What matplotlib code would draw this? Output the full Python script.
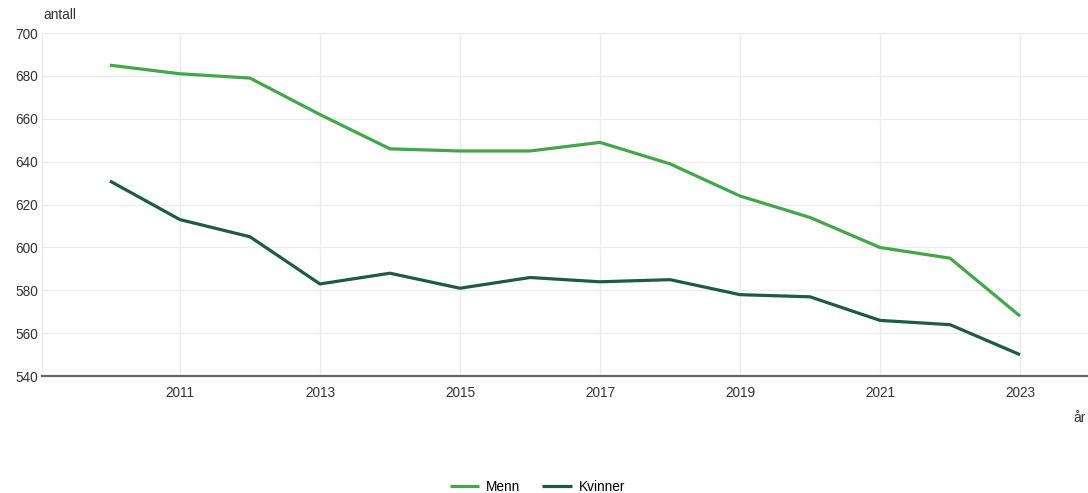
import matplotlib.pyplot as plt
import numpy as np

years = [2010, 2011, 2012, 2013, 2014, 2015, 2016, 2017, 2018, 2019, 2020, 2021, 2022, 2023]
menn = [685, 681, 679, 662, 646, 645, 645, 649, 639, 624, 614, 600, 595, 568]
kvinner = [631, 613, 605, 583, 588, 581, 586, 584, 585, 578, 577, 566, 564, 550]
x_ticks = [2011, 2013, 2015, 2017, 2019, 2021, 2023]
y_ticks = [540, 560, 580, 600, 620, 640, 660, 680, 700]

plt.rcParams['font.family'] = ['Liberation Sans', 'DejaVu Sans']

fig = plt.figure(figsize=(10.88, 4.93), dpi=100)
ax = fig.add_axes([0.0386, 0.237, 0.9614, 0.696])

ax.plot(years, menn, color='#43a74a', linewidth=2.3, label='Menn', solid_capstyle='butt')
ax.plot(years, kvinner, color='#1e5b45', linewidth=2.3, label='Kvinner', solid_capstyle='butt')

ax.set_xlim(2009.03, 2023.97)
ax.set_ylim(540, 700)
ax.set_xticks(x_ticks)
ax.set_yticks(y_ticks)
ax.grid(True, color='#e8ecef', linewidth=0.9)
ax.set_axisbelow(True)
ax.tick_params(length=0, labelsize=9.8, colors='#333333', pad=7)
ax.tick_params(axis='y', pad=3)

for s in ['top', 'right']:
    ax.spines[s].set_visible(False)
ax.spines['left'].set_color('#e8ecef')
ax.spines['bottom'].set_color('#666666')
ax.spines['bottom'].set_linewidth(1.6)

fig.text(0.0395, 0.955, 'antall', fontsize=9.8, color='#333333', ha='left', va='bottom')
fig.text(0.998, 0.152, 'år', fontsize=9.8, color='#333333', ha='right', va='center')

fig.legend(loc='center', bbox_to_anchor=(0.494, 0.012), ncol=2, frameon=False,
           fontsize=9.8, handlelength=2.2, columnspacing=1.6, handletextpad=0.5)

plt.savefig('out.png', dpi=100)
